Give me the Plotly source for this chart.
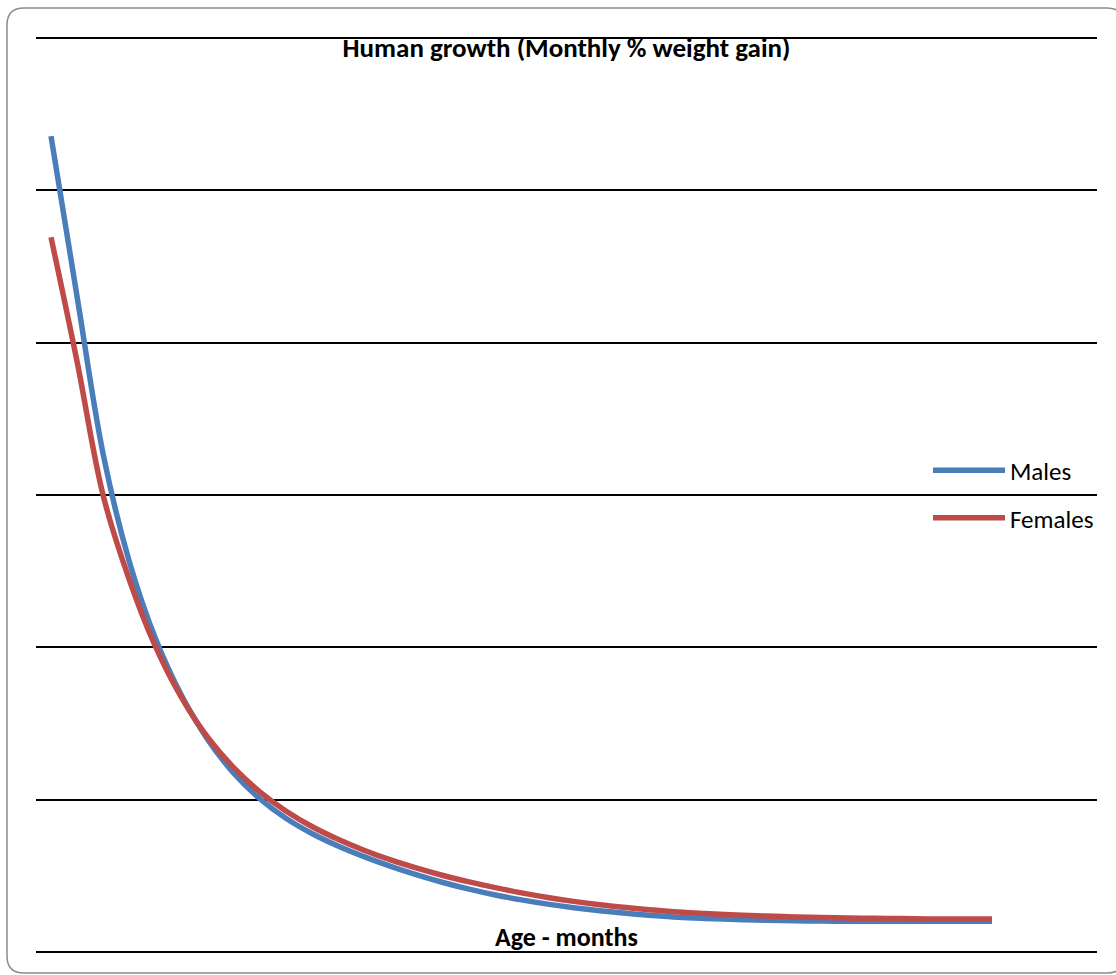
import plotly.graph_objects as go

# Age in months (hidden category positions)
months = list(range(0, 37))

# Monthly % weight gain
males = [26.78, 21.50, 16.32, 12.80, 10.28, 8.41, 6.97, 5.86, 5.02, 4.38,
         3.88, 3.47, 3.12, 2.81, 2.53, 2.28, 2.06, 1.87, 1.71, 1.57,
         1.45, 1.35, 1.27, 1.20, 1.14, 1.10, 1.07, 1.05, 1.03, 1.02,
         1.01, 1.01, 1.01, 1.01, 1.01, 1.01, 1.01]
females = [23.46, 19.37, 14.97, 12.21, 10.02, 8.34, 7.04, 6.04, 5.25, 4.62,
           4.11, 3.69, 3.33, 3.02, 2.75, 2.51, 2.30, 2.11, 1.94, 1.79,
           1.66, 1.55, 1.46, 1.38, 1.31, 1.26, 1.22, 1.19, 1.16, 1.14,
           1.12, 1.11, 1.10, 1.09, 1.08, 1.08, 1.08]

series_names = ["Males", "Females"]
title_text = "Human growth (Monthly % weight gain)"
xaxis_title = "Age - months"

W, H = 1116, 975
L, R, T, B = 36, 19, 35, 20
plot_w = W - L - R
plot_h = H - T - B

def px_to_paper_x(px):
    return (px - L) / plot_w

def px_to_paper_y(py):
    return (H - B - py) / plot_h

FONT = "Carlito, Lato, 'Liberation Sans', sans-serif"

fig = go.Figure()
fig.add_trace(go.Scatter(x=months, y=males, name=series_names[0], mode="lines",
                         line=dict(color="#4A7EBB", width=5.5, shape="spline", smoothing=1),
                         legendgroup="m"))
fig.add_trace(go.Scatter(x=months, y=females, name=series_names[1], mode="lines",
                         line=dict(color="#BE4B48", width=5.5, shape="spline", smoothing=1),
                         legendgroup="f"))

# rounded chart border
x0, x1 = px_to_paper_x(7), px_to_paper_x(1124)
y0, y1 = px_to_paper_y(8), px_to_paper_y(973)
rx = 17 / plot_w
ry = 17 / plot_h
path = (f"M{x0+rx},{y0} L{x1-rx},{y0} Q{x1},{y0} {x1},{y0-ry} "
        f"L{x1},{y1+ry} Q{x1},{y1} {x1-rx},{y1} "
        f"L{x0+rx},{y1} Q{x0},{y1} {x0},{y1+ry} "
        f"L{x0},{y0-ry} Q{x0},{y0} {x0+rx},{y0} Z")
fig.add_shape(type="path", path=path, xref="paper", yref="paper",
              line=dict(color="#8C8C8C", width=1.5), layer="below")

fig.add_annotation(text=f"<b>{xaxis_title}</b>", xref="paper", yref="paper",
                   x=0.5, y=px_to_paper_y(937), xanchor="center", yanchor="middle",
                   showarrow=False, font=dict(family=FONT, size=26, color="black"))

fig.update_layout(
    width=W, height=H,
    margin=dict(l=L, r=R, t=T, b=B, pad=0),
    paper_bgcolor="white", plot_bgcolor="white",
    title=dict(text=f"<b>{title_text}</b>", x=0.5, xref="paper",
               y=1 - 48 / H, yref="container", xanchor="center", yanchor="middle",
               font=dict(family=FONT, size=27, color="black")),
    xaxis=dict(range=[-0.574, 40.02], showgrid=False, zeroline=False,
               showticklabels=False, ticks="", showline=False),
    yaxis=dict(range=[-0.1, 30.1], tick0=0, dtick=5, showgrid=True,
               gridcolor="black", gridwidth=1.5, zeroline=True,
               zerolinecolor="black", zerolinewidth=1.5,
               showticklabels=False, ticks="", showline=False),
    legend=dict(x=px_to_paper_x(928), y=px_to_paper_y(494), xanchor="left", yanchor="middle",
                font=dict(family=FONT, size=25, color="black"),
                bgcolor="rgba(0,0,0,0)", itemwidth=72, tracegroupgap=12,
                traceorder="grouped"),
    showlegend=True,
)

fig.write_html("out.html", config={"displayModeBar": False},
               post_script="document.body.style.margin='0';")
